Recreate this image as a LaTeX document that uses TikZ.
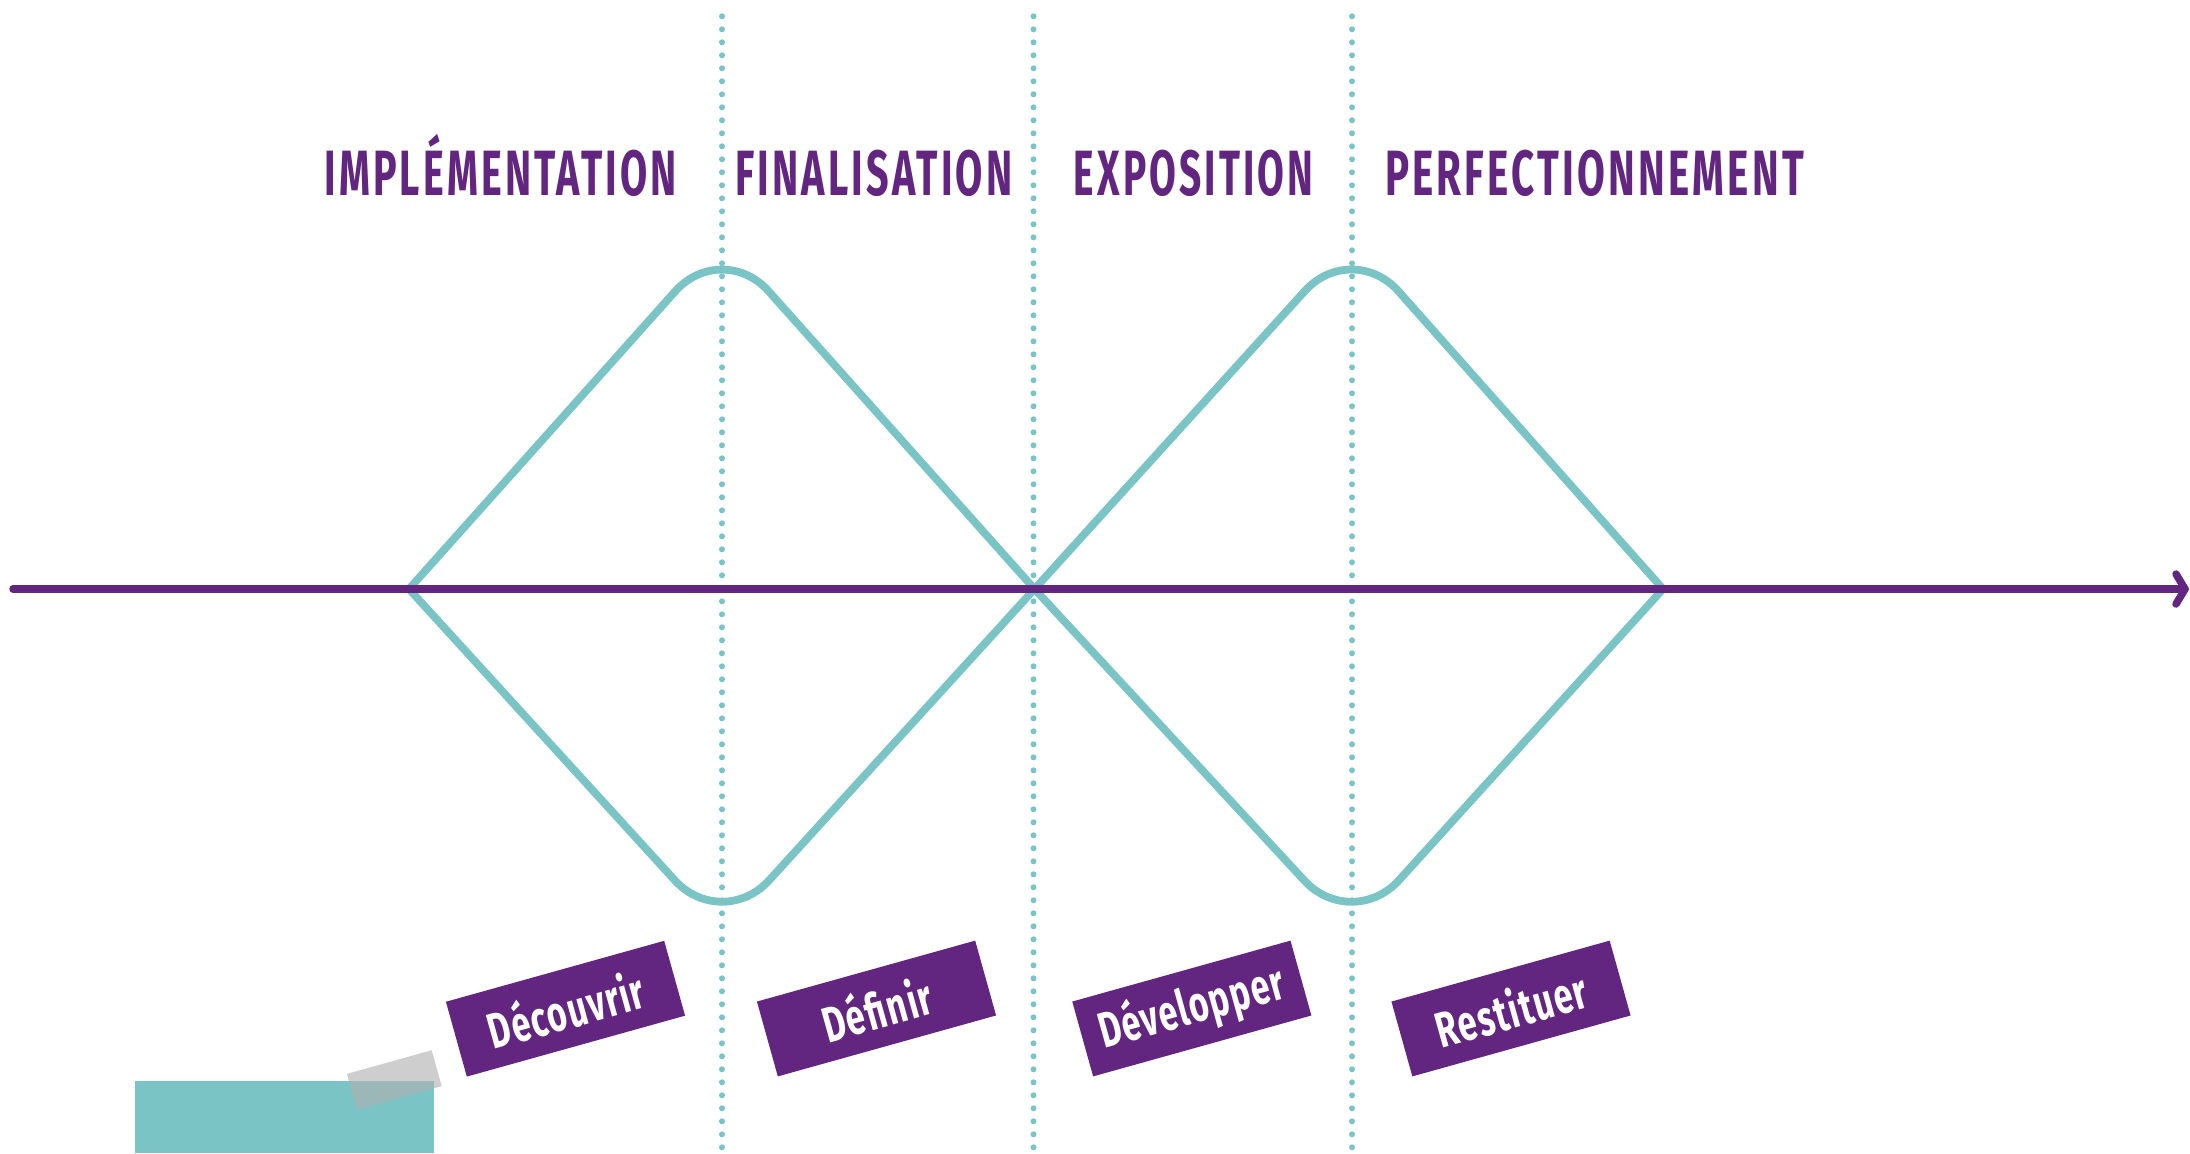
\documentclass[tikz,border=0pt]{standalone}
\usepackage{fontspec}
\setmainfont{Fira Sans}
\newfontfamily\phasefont{Fira Sans}[LetterSpace=8]
\newfontfamily\stepfont{Fira Sans}[LetterSpace=4]
\usepackage{graphicx}
\definecolor{teal1}{HTML}{7BC4C6}
\definecolor{purp}{HTML}{622580}
\definecolor{tapegray}{HTML}{B0B0B0}
\begin{document}
\begin{tikzpicture}[x=0.5pt,y=-0.5pt,
  dotline/.style={draw=teal1, line width=3pt, line cap=round, dash pattern=on 0pt off 6.5pt},
  wave/.style={draw=teal1, line width=3.9pt, line cap=round, line join=round, rounded corners=35pt},
  axisline/.style={draw=purp, line width=3.75pt, line cap=round, line join=round},
  phase/.style={anchor=base west, inner sep=0pt, text=purp, font=\fontsize{32}{32}\selectfont\phasefont\bfseries},
  stepbox/.style={fill=purp, text=white, rotate=15.6, minimum width=113.3pt, minimum height=38.85pt, inner sep=0pt, font=\fontsize{25}{25}\selectfont\stepfont\bfseries},
  tapebox/.style={fill=tapegray, fill opacity=0.62, rotate=15.6, minimum width=44pt, minimum height=18.65pt, inner sep=0pt},
]
\useasboundingbox (0,0) rectangle (2190,1153);

% dotted separators
\coordinate (d1t) at (722,16.3);   \coordinate (d1b) at (722,1153);
\coordinate (d2t) at (1033.5,16.3);\coordinate (d2b) at (1033.5,1153);
\coordinate (d3t) at (1352,16.3);  \coordinate (d3b) at (1352,1153);
\draw[dotline] (d1t) -- (d1b);
\draw[dotline] (d2t) -- (d2b);
\draw[dotline] (d3t) -- (d3b);

% diamonds
\coordinate (L1) at (409,589);
\coordinate (T1) at (722,239);
\coordinate (B1) at (722,932);
\coordinate (R1) at (1034.5,589);
\coordinate (T2) at (1352,239);
\coordinate (B2) at (1352,932);
\coordinate (R2) at (1663,589);
\draw[wave] (L1) -- (T1) -- (R1);
\draw[wave] (L1) -- (B1) -- (R1);
\draw[wave] (R1) -- (T2) -- (R2);
\draw[wave] (R1) -- (B2) -- (R2);

% time axis
\coordinate (a0) at (13,589);
\coordinate (a1) at (2185,589);
\coordinate (h1) at (2176,574);
\coordinate (h2) at (2176,604);
\draw[axisline] (a0) -- (a1);
\draw[axisline] (h1) -- (a1) -- (h2);

% phase titles
\node[phase] (p1) at (324,195.5) {\resizebox{176.25pt}{\height}{IMPLÉMENTATION}};
\node[phase] (p2) at (735,195.5) {\resizebox{138.5pt}{\height}{FINALISATION}};
\node[phase] (p3) at (1073.5,195.5) {\resizebox{119.75pt}{\height}{EXPOSITION}};
\node[phase] (p4) at (1384.6,195.5) {\resizebox{209.5pt}{\height}{PERFECTIONNEMENT}};

% bottom decoration
\fill[teal1] (135,1081) rectangle (434,1153);
\node[tapebox] (tape) at (394.3,1080) {};

% step labels
\node[stepbox] (s1) at (565.5,1008.7) {\resizebox{80pt}{\height}{Découvrir}};
\node[stepbox] (s2) at (876.5,1008.5) {\resizebox{56pt}{\height}{Définir}};
\node[stepbox] (s3) at (1191.8,1008.5) {\resizebox{95pt}{\height}{Développer}};
\node[stepbox] (s4) at (1511,1008.5) {\resizebox{77.5pt}{\height}{Restituer}};
\end{tikzpicture}
\end{document}
